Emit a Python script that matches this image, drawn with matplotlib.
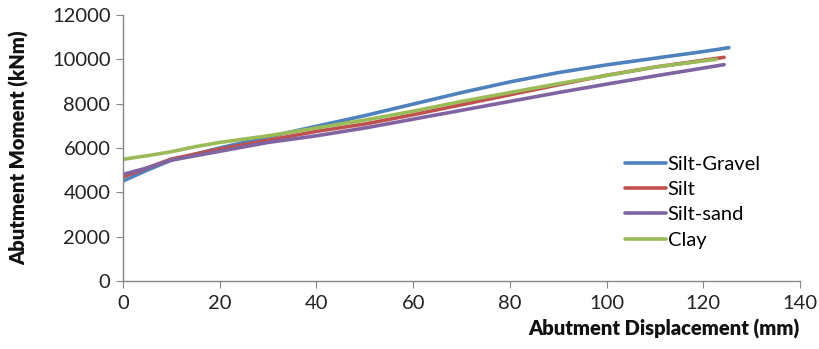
import matplotlib.pyplot as plt

# displacement (mm) and moment (kNm)
x_gravel = [0, 5, 10, 20, 30, 40, 50, 60, 70, 80, 90, 100, 110, 120, 125.3]
m_gravel = [4510, 5000, 5450, 6000, 6500, 6980, 7460, 7980, 8500, 8980, 9400, 9750, 10050, 10350, 10525]

x_silt = [0, 5, 10, 20, 30, 40, 50, 60, 70, 80, 90, 100, 110, 124.3]
m_silt = [4700, 5100, 5500, 5950, 6350, 6750, 7080, 7500, 7950, 8400, 8850, 9280, 9650, 10090]

x_sand = [0, 5, 10, 20, 30, 40, 50, 60, 70, 80, 90, 100, 110, 124.3]
m_sand = [4810, 5100, 5450, 5850, 6250, 6550, 6900, 7300, 7700, 8100, 8500, 8880, 9250, 9760]

x_clay = [0, 5, 10, 15, 20, 30, 40, 50, 60, 70, 80, 90, 100, 110, 122.7]
m_clay = [5490, 5650, 5830, 6060, 6250, 6550, 6900, 7260, 7660, 8100, 8500, 8900, 9270, 9650, 10000]

series = [
    ("Silt-Gravel", x_gravel, m_gravel, "#4F81BD"),
    ("Silt", x_silt, m_silt, "#C0504D"),
    ("Silt-sand", x_sand, m_sand, "#8064A2"),
    ("Clay", x_clay, m_clay, "#9BBB59"),
]

plt.rcParams['font.family'] = ['Lato', 'DejaVu Sans']
fs = 14.5

fig = plt.figure(figsize=(8.2, 3.49), dpi=100)
ax = fig.add_axes([0.15, 0.195, 0.8256, 0.762])

for name, xs, ys, col in series:
    ax.plot(xs, ys, color=col, linewidth=2.6, label=name, solid_capstyle='round')

ax.set_xlim(0, 140)
ax.set_ylim(0, 12000)
ax.set_xticks(range(0, 141, 20))
ax.set_yticks(range(0, 12001, 2000))

for s in ['top', 'right']:
    ax.spines[s].set_visible(False)
for s in ['left', 'bottom']:
    ax.spines[s].set_color('#868686')
    ax.spines[s].set_linewidth(1.0)
ax.tick_params(axis='both', direction='out', length=5, color='#868686',
               labelsize=fs, labelcolor='#222222')
ax.tick_params(axis='x', pad=5)
ax.tick_params(axis='y', pad=4)

ax.set_ylabel("Abutment Moment (kNm)", fontsize=fs, fontweight='heavy', color='#111111')
ax.yaxis.set_label_coords(-0.138, 0.5)
fig.text(0.975, 0.03, "Abutment Displacement (mm)", ha='right', va='bottom',
         fontsize=fs, fontweight='heavy', color='#111111')

ax.legend(loc='upper left', bbox_to_anchor=(0.73, 0.50), frameon=False,
          fontsize=fs, handlelength=2.0, handletextpad=0.1, labelspacing=0.4,
          borderaxespad=0)

fig.savefig("out.png", dpi=100)
